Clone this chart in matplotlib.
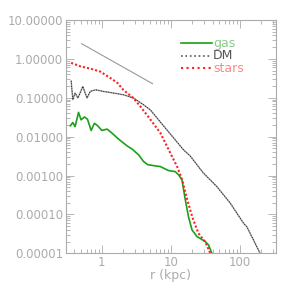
import numpy as np
import matplotlib
matplotlib.use("Agg")
import matplotlib.pyplot as plt
from matplotlib.ticker import FormatStrFormatter, LogLocator, NullFormatter

# radial density profiles
r_stars = [0.36, 0.49, 0.68, 0.95, 1.33, 1.67, 2.04, 2.85, 3.6, 4.85, 7.0, 8.8,
           12.3, 14.5, 17.2, 20.3, 24.8, 31.3, 37.0]
rho_stars = [0.79, 0.64, 0.56, 0.47, 0.32, 0.243, 0.16, 0.098, 0.060, 0.030, 0.0125, 0.0055,
             0.00167, 7.7e-4, 2.36e-4, 8.6e-5, 3.3e-5, 1.95e-5, 1.0e-5]

r_gas = [0.35, 0.38, 0.41, 0.46, 0.50, 0.56, 0.62, 0.70, 0.78, 0.87, 1.0, 1.19, 1.40,
         1.75, 2.31, 2.73, 3.40, 4.0, 4.6, 5.9, 7.0, 9.2, 11.5, 12.9, 14.4, 16.1, 17.9,
         20.1, 23.7, 31.3, 34.9, 39.0]
rho_gas = [0.019, 0.023, 0.018, 0.042, 0.027, 0.032, 0.028, 0.0144, 0.022, 0.019, 0.0144,
           0.0156, 0.0123, 0.0086, 0.0058, 0.0048, 0.0034, 0.0023, 0.0019, 0.00177, 0.0017,
           0.00134, 0.00126, 0.00104, 7.7e-4, 2.36e-4, 8.7e-5, 4.0e-5, 2.7e-5, 2.0e-5,
           1.63e-5, 1.0e-5]

r_dm = [0.36, 0.38, 0.41, 0.45, 0.53, 0.61, 0.68, 0.81, 1.06, 1.48, 2.06, 2.88, 4.0,
        5.0, 15.1, 18.9, 29.5, 46.0, 72.0, 112.0, 125.0, 194.0]
rho_dm = [0.27, 0.089, 0.132, 0.098, 0.195, 0.098, 0.145, 0.160, 0.145, 0.132, 0.119,
          0.098, 0.066, 0.049, 0.0046, 0.0032, 0.00115, 5.2e-4, 1.94e-4, 5.9e-5, 4.8e-5,
          1.0e-5]

# r^-1 reference slope
r_ref = [0.51, 5.4]
rho_ref = [2.45, 0.23]

axis_gray = "#ababab"

fig = plt.figure(figsize=(2.95, 2.95), dpi=100)
ax = fig.add_axes([0.2227, 0.1414, 0.713, 0.791])

ax.plot(r_ref, rho_ref, color="#999999", lw=0.8)
ax.plot(r_dm, rho_dm, color="#999999", lw=1.0)
ax.plot(r_dm, rho_dm, color="black", lw=0.6, ls=(0, (1, 2)))
ax.plot(r_gas, rho_gas, color="#1aa01a", lw=1.2)
ax.plot(r_stars, rho_stars, color="#ff2020", lw=1.5, ls=(0, (1, 1)))

ax.set_xscale("log")
ax.set_yscale("log")
ax.set_xlim(0.3, 330)
ax.set_ylim(1e-5, 10)

ax.yaxis.set_major_locator(LogLocator(base=10, numticks=10))
ax.yaxis.set_major_formatter(FormatStrFormatter("%.5f"))
ax.yaxis.set_minor_locator(LogLocator(base=10, subs=np.arange(2, 10), numticks=10))
ax.yaxis.set_minor_formatter(NullFormatter())
ax.xaxis.set_major_formatter(FormatStrFormatter("%g"))
ax.xaxis.set_minor_formatter(NullFormatter())

for s in ax.spines.values():
    s.set_color(axis_gray)
    s.set_linewidth(0.8)
ax.tick_params(which="both", direction="in", top=True, right=True,
               color=axis_gray, labelcolor=axis_gray, labelsize=8.5, width=0.6)
ax.tick_params(which="major", length=6)
ax.tick_params(which="minor", length=3)
ax.tick_params(axis="x", pad=2)
ax.tick_params(axis="y", pad=2)

ax.set_xlabel("r (kpc)", color=axis_gray, fontsize=9, labelpad=0)
fig.text(-0.02, 0.54, r"mass density (M$_\odot$ pc$^{-3}$)", rotation=90,
         color=axis_gray, fontsize=9, ha="center", va="center")

# legend drawn IDL-style: short line with label right after
leg_lines = [("gas", "#1aa01a", "-", "#88cc88"),
             ("DM", "#555555", ":", "#555555"),
             ("stars", "#ff2020", ":", "#ff8888")]
for i, (lab, col, ls, tcol) in enumerate(leg_lines):
    y = 0.9 - i * 0.053
    ax.plot([0.55, 0.695], [y, y], transform=ax.transAxes, color=col, ls=ls,
            lw=1.2 if lab != "stars" else 1.5)
    ax.text(0.70, y, lab, transform=ax.transAxes, color=tcol, fontsize=9,
            va="center", ha="left")

fig.savefig("out.png", dpi=100)
